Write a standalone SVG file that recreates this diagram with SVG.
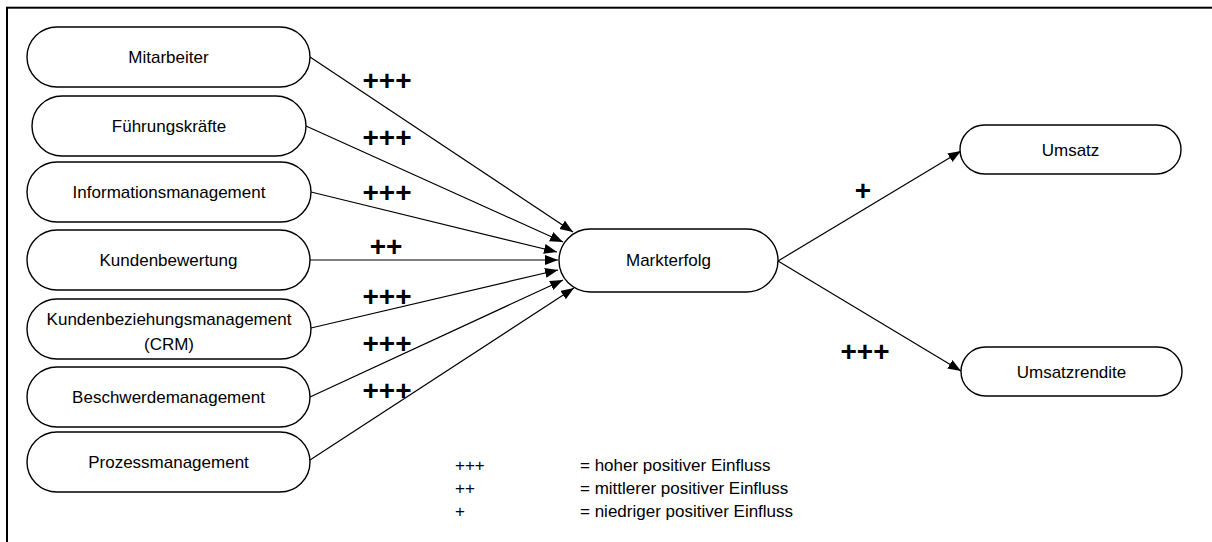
<svg xmlns="http://www.w3.org/2000/svg" width="1212" height="542" viewBox="0 0 1212 542">
  <defs>
    <marker id="arr" markerUnits="userSpaceOnUse" markerWidth="14" markerHeight="12" refX="13" refY="5" orient="auto">
      <path d="M0,0 L13,5 L0,10 Z" fill="#000"/>
    </marker>
    <style>
      .node rect { fill: #fff; stroke: #000; stroke-width: 1.4; }
      .node text { font-family: "Liberation Sans", Arial, sans-serif; font-size: 17px; fill: #000; text-anchor: middle; }
      .conn line { stroke: #000; stroke-width: 1.2; marker-end: url(#arr); }
      .lbl { font-family: "Liberation Sans", Arial, sans-serif; font-size: 28px; font-weight: bold; fill: #000; text-anchor: middle; }
      .leg { font-family: "Liberation Sans", Arial, sans-serif; font-size: 17px; fill: #000; }
    </style>
  </defs>
  <rect x="0" y="0" width="1212" height="542" fill="#fff"/>
  <rect x="7" y="7.7" width="1230" height="560" fill="none" stroke="#000" stroke-width="2"/>

  <g id="connectors" class="conn">
    <line x1="310" y1="57" x2="573" y2="232"/>
    <line x1="306" y1="126" x2="563" y2="242"/>
    <line x1="311" y1="192" x2="557" y2="252"/>
    <line x1="310" y1="260" x2="558" y2="260"/>
    <line x1="311" y1="328" x2="558" y2="270"/>
    <line x1="310" y1="397" x2="563" y2="280"/>
    <line x1="310" y1="460" x2="574" y2="288"/>
    <line x1="778" y1="261" x2="961" y2="151"/>
    <line x1="778" y1="261" x2="961" y2="371"/>
  </g>

  <g id="labels">
    <text class="lbl" x="387" y="90">+++</text>
    <text class="lbl" x="387" y="147">+++</text>
    <text class="lbl" x="387" y="202">+++</text>
    <text class="lbl" x="386" y="256">++</text>
    <text class="lbl" x="387" y="306">+++</text>
    <text class="lbl" x="387" y="353">+++</text>
    <text class="lbl" x="387" y="400">+++</text>
    <text class="lbl" x="863" y="200">+</text>
    <text class="lbl" x="865" y="361">+++</text>
  </g>

  <g id="n-mitarbeiter" class="node"><rect x="27" y="27" width="283" height="60" rx="30"/><text x="168.5" y="63">Mitarbeiter</text></g>
  <g id="n-fuehrung" class="node"><rect x="32" y="96" width="274" height="60" rx="30"/><text x="169" y="132">Führungskräfte</text></g>
  <g id="n-info" class="node"><rect x="27" y="162" width="284" height="60" rx="30"/><text x="169" y="198">Informationsmanagement</text></g>
  <g id="n-kundenbew" class="node"><rect x="27" y="230" width="283" height="60" rx="30"/><text x="168.5" y="266">Kundenbewertung</text></g>
  <g id="n-crm" class="node"><rect x="27" y="299" width="284" height="60" rx="30"/><text x="169" y="325">Kundenbeziehungsmanagement</text><text x="169" y="350">(CRM)</text></g>
  <g id="n-beschwerde" class="node"><rect x="27" y="367" width="283" height="60" rx="30"/><text x="168.5" y="403">Beschwerdemanagement</text></g>
  <g id="n-prozess" class="node"><rect x="27" y="432" width="283" height="60" rx="30"/><text x="168.5" y="468">Prozessmanagement</text></g>
  <g id="n-markterfolg" class="node"><rect x="559" y="229" width="219" height="63" rx="31.5"/><text x="668.5" y="266">Markterfolg</text></g>
  <g id="n-umsatz" class="node"><rect x="960" y="125" width="221" height="49" rx="24.5"/><text x="1070.5" y="156">Umsatz</text></g>
  <g id="n-umsatzrendite" class="node"><rect x="961" y="347" width="221" height="49" rx="24.5"/><text x="1071.5" y="378">Umsatzrendite</text></g>

  <g id="legend">
    <text class="leg" x="455" y="471">+++</text>
    <text class="leg" x="580" y="471">= hoher positiver Einfluss</text>
    <text class="leg" x="455" y="494">++</text>
    <text class="leg" x="580" y="494">= mittlerer positiver Einfluss</text>
    <text class="leg" x="455" y="517">+</text>
    <text class="leg" x="580" y="517">= niedriger positiver Einfluss</text>
  </g>
</svg>
